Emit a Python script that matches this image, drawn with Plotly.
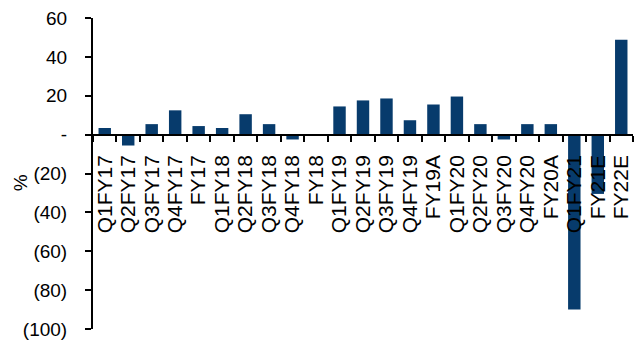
import plotly.graph_objects as go

categories = ["Q1FY17", "Q2FY17", "Q3FY17", "Q4FY17", "FY17",
              "Q1FY18", "Q2FY18", "Q3FY18", "Q4FY18", "FY18",
              "Q1FY19", "Q2FY19", "Q3FY19", "Q4FY19", "FY19A",
              "Q1FY20", "Q2FY20", "Q3FY20", "Q4FY20", "FY20A",
              "Q1FY21", "FY21E", "FY22E"]
values = [3.4, -5.6, 5.4, 12.5, 4.4,
          3.4, 10.5, 5.4, -2.5, 0.0,
          14.5, 17.6, 18.6, 7.4, 15.5,
          19.6, 5.4, -2.5, 5.4, 5.4,
          -90.0, -30.5, 48.8]
y_tickvals = [60, 40, 20, 0, -20, -40, -60, -80, -100]
y_ticktext = ["60", "40", "20", "-", "(20)", "(40)", "(60)", "(80)", "(100)"]

y_min, y_max = -100, 60
zero_pos = (0 - y_min) / (y_max - y_min)

family = "Liberation Sans, Arial, sans-serif"
yfont = dict(family=family, size=19, color="black")
xfont = dict(family=family, size=21, color="black")

fig = go.Figure(go.Bar(x=categories, y=values, marker=dict(color="#073b6c", line=dict(width=0))))

fig.update_layout(
    width=641, height=348,
    margin=dict(l=93, r=8, t=17, b=15),
    paper_bgcolor="white", plot_bgcolor="white",
    bargap=0.47,
    showlegend=False,
    font=yfont,
    xaxis=dict(
        type="category",
        anchor="free", position=zero_pos,
        showline=True, linecolor="black", linewidth=2,
        ticks="outside", ticklen=6, tickwidth=2, tickcolor="black",
        tickson="boundaries",
        tickmode="array", tickvals=categories, ticktext=categories,
        tickangle=-90,
        ticklabelstandoff=11,
        showgrid=False, zeroline=False,
        tickfont=xfont,
    ),
    yaxis=dict(
        range=[y_min, y_max],
        tickvals=y_tickvals, ticktext=y_ticktext,
        showline=True, linecolor="black", linewidth=2,
        ticks="outside", ticklen=6, tickwidth=2, tickcolor="black",
        ticklabelstandoff=14,
        showgrid=False, zeroline=False,
        tickfont=yfont,
    ),
    annotations=[dict(
        text="%", textangle=-90, showarrow=False,
        xref="paper", yref="paper",
        x=(20 - 93) / 540, y=(333 - 185) / 316,
        xanchor="center", yanchor="middle",
        font=dict(family=family, size=19, color="black"),
    )],
)

fig.write_html("out.html")
